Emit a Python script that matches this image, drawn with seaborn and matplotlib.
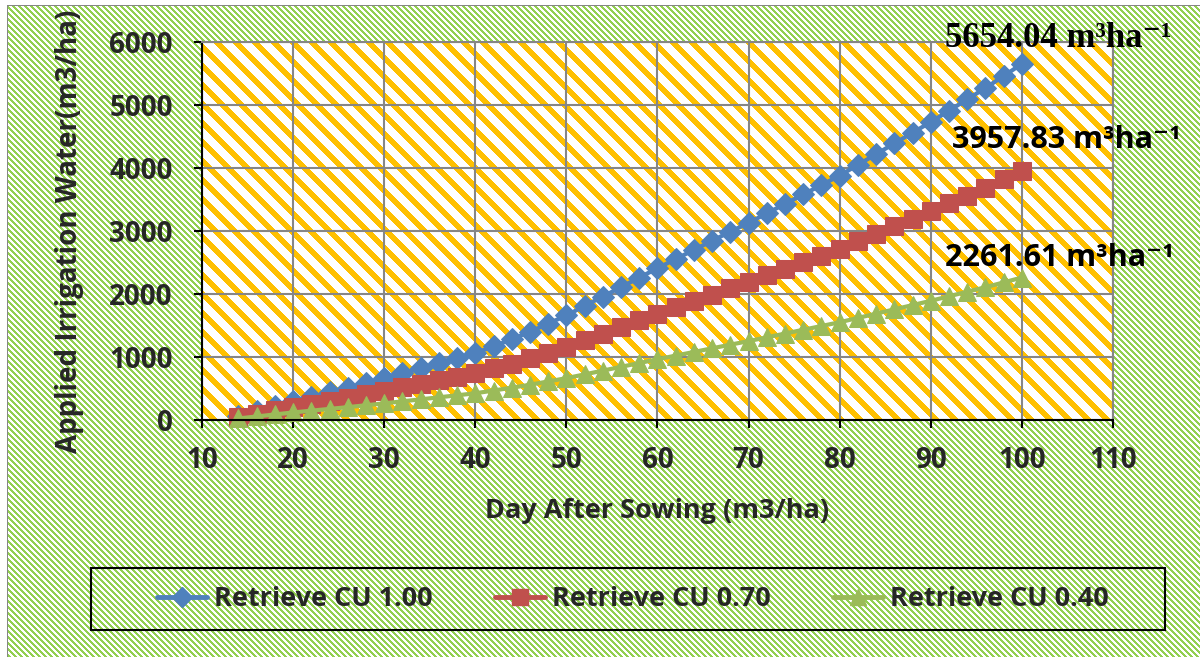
import numpy as np
import pandas as pd
import matplotlib
matplotlib.use("Agg")
import matplotlib.pyplot as plt
from matplotlib.patches import Rectangle
from matplotlib.lines import Line2D
import seaborn as sns

# ---------------- data ----------------
days = [14, 16, 18, 20, 22, 24, 26, 28, 30, 32, 34, 36, 38, 40, 42, 44, 46, 48, 50,
        52, 54, 56, 58, 60, 62, 64, 66, 68, 70, 72, 74, 76, 78, 80, 82, 84, 86, 88,
        90, 92, 94, 96, 98, 100]
cu_100 = [60, 140, 220, 300, 370, 440, 510, 585, 660, 740, 820, 900, 980, 1060,
          1170, 1280, 1400, 1530, 1660, 1810, 1960, 2110, 2260, 2410, 2555, 2700,
          2845, 2990, 3130, 3280, 3430, 3580, 3730, 3880, 4050, 4220, 4390, 4560,
          4730, 4910, 5090, 5270, 5460, 5654.04]
cu_070 = [42, 98, 154, 210, 259, 308, 357, 410, 462, 518, 574, 630, 686, 742,
          819, 896, 980, 1071, 1162, 1267, 1372, 1477, 1582, 1687, 1789, 1890,
          1992, 2093, 2191, 2296, 2401, 2506, 2611, 2716, 2835, 2954, 3073, 3192,
          3311, 3437, 3563, 3689, 3822, 3957.83]
cu_040 = [24, 56, 88, 120, 148, 176, 204, 234, 264, 296, 328, 360, 392, 424,
          468, 512, 560, 612, 664, 724, 784, 844, 904, 964, 1022, 1080, 1138,
          1196, 1252, 1312, 1372, 1432, 1492, 1552, 1620, 1688, 1756, 1824, 1892,
          1964, 2036, 2108, 2184, 2261.61]
series_labels = ["Retrieve CU 1.00", "Retrieve CU 0.70", "Retrieve CU 0.40"]
end_labels = ["5654.04 m³ha⁻¹", "3957.83 m³ha⁻¹", "2261.61 m³ha⁻¹"]
x_ticks = [10, 20, 30, 40, 50, 60, 70, 80, 90, 100, 110]
y_ticks = [0, 1000, 2000, 3000, 4000, 5000, 6000]

# ---------------- style ----------------
sns.set_theme(style="white")
SANS = ["Open Sans", "DejaVu Sans"]
SERIF = ["Liberation Serif", "DejaVu Serif"]
plt.rcParams["font.family"] = SANS
plt.rcParams["font.weight"] = "bold"

W, H = 1200, 657
fig = plt.figure(figsize=(W / 100, H / 100), dpi=100)
ax_l, ax_r, ax_t, ax_b = 202, 1113, 42, 420
ax = fig.add_axes([ax_l / W, 1 - ax_b / H, (ax_r - ax_l) / W, (ax_b - ax_t) / H])
ax.set_facecolor("none")

# striped backgrounds (green chart area, orange plot area)
green = np.array([146, 208, 80]) / 255
orange = np.array([255, 192, 0]) / 255
gray = np.array([134, 134, 134]) / 255
yy, xx = np.mgrid[0:H, 0:W]
bg = np.ones((H, W, 3))
bg[((xx - yy) % 6) < 3] = green
inside = (xx >= ax_l) & (xx < ax_r) & (yy >= ax_t) & (yy < ax_b)
bg[inside] = 1.0
bg[inside & (((xx - yy) % 19) < 8)] = orange
bg[:5, :] = 1.0
bg[:, :7] = 1.0
bg[5, 7:] = gray
bg[5:, 7] = gray
fig.figimage(bg, 0, 0, origin="upper", zorder=-10)

colors = ["#4F81BD", "#C0504D", "#9BBB59"]
markers = ["D", "s", "^"]
msizes = [11.5, 13, 13]
df = pd.DataFrame({"day": days, "cu100": cu_100, "cu070": cu_070, "cu040": cu_040})
for col, c, m, ms, lab in zip(["cu100", "cu070", "cu040"], colors, markers, msizes, series_labels):
    sns.lineplot(data=df, x="day", y=col, ax=ax, color=c, marker=m, markersize=ms,
                 markeredgecolor=c, linewidth=3, clip_on=False, label=lab, legend=False)

ax.set_xlim(10, 110)
ax.set_ylim(0, 6000)
ax.set_xticks(x_ticks)
ax.set_yticks(y_ticks)
ax.grid(True, color="#868686", linewidth=1.5)
ax.set_axisbelow(True)
for s in ["left", "bottom"]:
    ax.spines[s].set_color("black")
    ax.spines[s].set_linewidth(1.5)
for s in ["top", "right"]:
    ax.spines[s].set_color("#868686")
    ax.spines[s].set_linewidth(1.5)
ax.tick_params(axis="both", which="major", direction="out", length=6, width=1.5,
               color="black", labelsize=20, bottom=True, left=True)
ax.tick_params(axis="x", pad=13)
ax.tick_params(axis="y", pad=15)
for lbl in ax.get_xticklabels() + ax.get_yticklabels():
    lbl.set_fontweight("bold")

ax.set_xlabel("Day After Sowing (m3/ha)", fontsize=19.5, fontweight="bold", labelpad=16)
ax.set_ylabel("Applied Irrigation Water(m3/ha)", fontsize=20, fontweight="bold", labelpad=18)

# end labels
ends = [cu_100[-1], cu_070[-1], cu_040[-1]]
offsets = [(26, 18), (32, 22), (27, 14)]
fams = [SERIF, SANS, SANS]
sizes = [25, 22, 22]
for v, lab, off, fam, fs in zip(ends, end_labels, offsets, fams, sizes):
    ax.annotate(lab, xy=(days[-1], v), xytext=off, textcoords="offset points",
                ha="center", va="center", fontsize=fs, fontweight="bold",
                family=fam, color="black", annotation_clip=False)

# legend
handles = [Line2D([], [], color=c, marker=m, markersize=ms * 0.9, markeredgecolor=c, linewidth=3.5)
           for c, m, ms in zip(colors, markers, msizes)]
leg = ax.legend(handles, series_labels, loc="center", bbox_to_anchor=(633 / W, 1 - 599 / H),
                bbox_transform=fig.transFigure, ncol=3, frameon=False,
                prop={"size": 19.5, "weight": "bold", "family": SANS}, handlelength=1.85,
                handletextpad=0.26, columnspacing=2.3)
fig.add_artist(Rectangle((91 / W, 1 - 630 / H), 1074 / W, 62 / H, transform=fig.transFigure,
                         fill=False, edgecolor="black", linewidth=1.5))

fig.savefig("out.png", dpi=100)
